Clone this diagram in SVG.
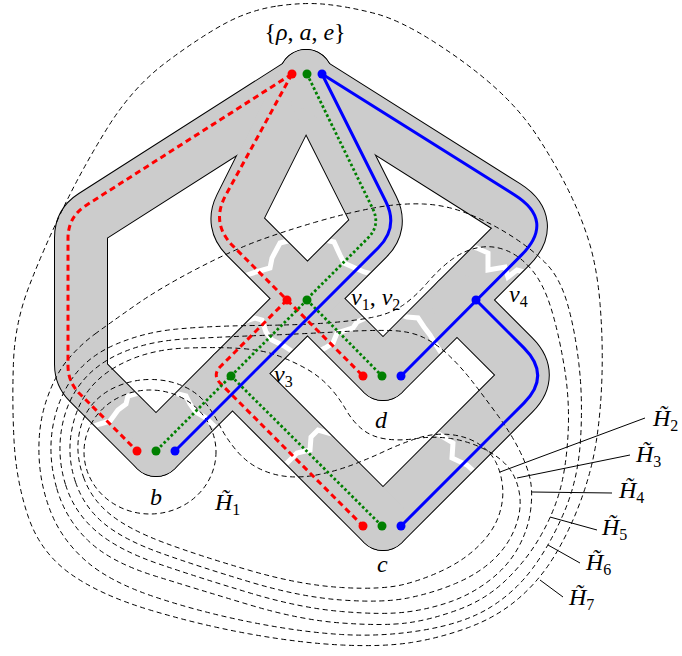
<svg xmlns="http://www.w3.org/2000/svg" width="682" height="656" viewBox="0 0 682 656">
<style>
.hd{fill:none;stroke:#000;stroke-width:1;stroke-dasharray:5 3.5}
.ld{stroke:#000;stroke-width:1;fill:none}
.zz{fill:none;stroke:#fff;stroke-width:5;stroke-linejoin:miter}
.r{fill:none;stroke:#f00;stroke-width:3;stroke-dasharray:6 4}
.g{fill:none;stroke:#008000;stroke-width:2.8;stroke-dasharray:2.6 2.4}
.bl{fill:none;stroke:#00f;stroke-width:3}
.dr{fill:#f00}.dg{fill:#008000}.db{fill:#00f}
text{font-family:"Liberation Serif","DejaVu Serif",serif;font-size:24px;fill:#000}
.it{font-style:italic}
.sub{font-size:16px;font-style:normal}
</style>
<defs>
<g id="bp" fill="none">
<path d="M306,80 L93.1,215.8 Q81,223.5 81,237.8 L81,364.2 Q81,375 88.6,382.6 L156,450"/>
<path d="M306,76 L240.7,206.5 Q232.3,223.3 245.6,236.6 L383,374"/>
<path d="M306,76 L372.5,208.2 Q381,225 367.7,238.3 L156,450"/>
<path d="M306,80 L505.9,206.1 Q533.5,223.5 510.4,246.6 L383,374"/>
<path d="M457,300 L513.6,356.6 Q532,375 513.6,393.4 L383,524"/>
<path d="M232.5,373.5 L383,524"/>
</g>
<mask id="bm" maskUnits="userSpaceOnUse" x="0" y="0" width="682" height="656">
<use href="#bp" stroke="#fff" stroke-width="51" stroke-linecap="round" stroke-linejoin="round"/>
</mask>
</defs>
<rect width="682" height="656" fill="#fff"/>
<g id="band">
<use href="#bp" stroke="#000" stroke-width="54" stroke-linecap="round" stroke-linejoin="round"/>
<use href="#bp" stroke="#ccc" stroke-width="52" stroke-linecap="round" stroke-linejoin="round"/>
</g>
<g id="cuts" mask="url(#bm)">
<polyline class="zz" points="88,428 100,424 110,421 118,410 126,404 128,396 142,392"/>
<polyline class="zz" points="170,392 186,396 190,404 196,412 206,418 213,425 222,432"/>
<polyline class="zz" points="244,276 256,272 270,268 272,258 280,243 292,240 302,238"/>
<polyline class="zz" points="312,240 325,240 334,242 340,255 344,263 355,268 364,272 372,274"/>
<polyline class="zz" points="242,322 255,318 262,320 266,332 272,340 284,346 296,354"/>
<polyline class="zz" points="318,352 325,348 333,343 337,333 353,328 357,322 370,316"/>
<polyline class="zz" points="470,246 477,248 488,253 488,270 505,267 508,277 517,270 524,272"/>
<polyline class="zz" points="396,313 407,317 418,318 424,327 430,335 436,345 442,354"/>
<polyline class="zz" points="280,468 287,463 297,453 310,450 311,437 318,430 332,434"/>
<polyline class="zz" points="432,430 445,438 453,443 452,458 467,465 478,475"/>
</g>
<g id="regions">
<ellipse class="hd" cx="150" cy="452" rx="66" ry="62"/>
<path class="hd" d="M 84,478.5 Q 76,457 78.5,438 Q 81,419 91,406 Q 101,393 118,386 Q 135,379 152.5,379.5 Q 170,380 184,386.5 Q 198,393 206,403.5 Q 214,414 220,426 Q 226,438 236,450 Q 246,462 259,468.5 Q 272,475 287,476.5 Q 302,478 319,474.5 Q 336,471 352,465 Q 368,459 384,451.5 Q 400,444 416.5,438.5 Q 433,433 449.5,434.5 Q 466,436 478,443.5 Q 490,451 495.5,461.5 Q 501,472 502.5,486 Q 504,500 499,515 Q 494,530 480.5,544 Q 467,558 447.5,568 Q 428,578 405.5,584 Q 383,590 341.5,587.5 Q 300,585 250,570.5 Q 200,556 165,543 Q 130,530 111,515 Q 92,500 84,478.5 Z"/>
<path class="hd" d="M 75.5,482 Q 67,457 71.5,431.5 Q 76,406 90,388.5 Q 104,371 129.5,360 Q 155,349 187.5,348 Q 220,347 241,348.5 Q 262,350 276,355 Q 290,360 304,367.5 Q 318,375 328,385.5 Q 338,396 345.5,409 Q 353,422 362.5,429.5 Q 372,437 386,439 Q 400,441 416.5,438.5 Q 433,436 450.5,438.5 Q 468,441 484,449 Q 500,457 508.5,467.5 Q 517,478 519.5,494 Q 522,510 515,528 Q 508,546 493,560 Q 478,574 455.5,583.5 Q 433,593 408,598 Q 383,603 341.5,600 Q 300,597 250,582 Q 200,567 162,553.5 Q 124,540 104,523.5 Q 84,507 75.5,482 Z"/>
<path class="hd" d="M 65.5,484.5 Q 57,457 61.5,429.5 Q 66,402 81.5,382.5 Q 97,363 123.5,352 Q 150,341 185,339 Q 220,337 260,335.5 Q 300,334 335,332 Q 370,330 390,330.5 Q 410,331 423.5,337.5 Q 437,344 449.5,356 Q 462,368 473.5,383 Q 485,398 497.5,415 Q 510,432 518.5,448.5 Q 527,465 530,478.5 Q 533,492 530.5,511 Q 528,530 518,548 Q 508,566 490,580 Q 472,594 451,601.5 Q 430,609 406.5,612 Q 383,615 341.5,611.5 Q 300,608 250,593 Q 200,578 159,564 Q 118,550 96,531 Q 74,512 65.5,484.5 Z"/>
<path class="hd" d="M 56.5,487.5 Q 48,457 52.5,428.5 Q 57,400 72.5,378 Q 88,356 116.5,344 Q 145,332 177.5,329 Q 210,326 255,325.5 Q 300,325 326.5,323 Q 353,321 371.5,317.5 Q 390,314 402.5,305.5 Q 415,297 427.5,282.5 Q 440,268 452.5,259 Q 465,250 479,247.5 Q 493,245 506.5,250.5 Q 520,256 531.5,269.5 Q 543,283 550.5,306.5 Q 558,330 564,365 Q 570,400 568,435 Q 566,470 559,493.5 Q 552,517 538.5,539.5 Q 525,562 505,581 Q 485,600 457.5,610 Q 430,620 406.5,623 Q 383,626 341.5,623 Q 300,620 250,605 Q 200,590 155,576 Q 110,562 87.5,540 Q 65,518 56.5,487.5 Z"/>
<path class="hd" d="M 95,334 Q 110,323 135,305.5 Q 160,288 196.5,269 Q 233,250 259,240.5 Q 285,231 316,222 Q 347,213 373.5,208 Q 400,203 423.5,204 Q 447,205 470,214.5 Q 493,224 513,237 Q 533,250 546.5,264 Q 560,278 567.5,304 Q 575,330 579,365 Q 583,400 580.5,440 Q 578,480 564,512.5 Q 550,545 532.5,568.5 Q 515,592 490,607.5 Q 465,623 424,630 Q 383,637 341.5,634.5 Q 300,632 250,622 Q 200,612 155,597 Q 110,582 86,561 Q 62,540 51,512.5 Q 40,485 39,455 Q 38,425 46.5,400 Q 55,375 67.5,360 Q 80,345 95,334 Z"/>
<path class="hd" d="M 277.5,6 Q 305,2 327.5,4.5 Q 350,7 375,13.5 Q 400,20 435,42.5 Q 470,65 495,87.5 Q 520,110 536.5,135 Q 553,160 566.5,186.5 Q 580,213 588.5,240 Q 597,267 600,303.5 Q 603,340 602,375 Q 601,410 596.5,440 Q 592,470 581,500 Q 570,530 555,555 Q 540,580 518.5,598.5 Q 497,617 468.5,627.5 Q 440,638 411.5,642.5 Q 383,647 341.5,645 Q 300,643 250,634 Q 200,625 150,610 Q 100,595 70,573.5 Q 40,552 28,516 Q 16,480 14,440 Q 12,400 13.5,361.5 Q 15,323 29,286.5 Q 43,250 63,208.5 Q 83,167 108,127 Q 133,87 166.5,62 Q 200,37 225,23.5 Q 250,10 277.5,6 Z"/>
</g>
<g id="leaders">
<line class="ld" x1="500" y1="472" x2="645" y2="418"/>
<line class="ld" x1="517" y1="478" x2="630" y2="455"/>
<line class="ld" x1="532" y1="492" x2="612" y2="493"/>
<line class="ld" x1="550" y1="517" x2="597" y2="530"/>
<line class="ld" x1="548" y1="545" x2="580" y2="563"/>
<line class="ld" x1="540" y1="580" x2="563" y2="597"/>
</g>
<g id="region-labels">
<text x="215" y="510"><tspan class="it">H&#x303;</tspan><tspan class="sub" dy="5">1</tspan></text>
<text x="653" y="426"><tspan class="it">H&#x303;</tspan><tspan class="sub" dy="5">2</tspan></text>
<text x="636" y="462"><tspan class="it">H&#x303;</tspan><tspan class="sub" dy="5">3</tspan></text>
<text x="619" y="498"><tspan class="it">H&#x303;</tspan><tspan class="sub" dy="5">4</tspan></text>
<text x="602" y="535"><tspan class="it">H&#x303;</tspan><tspan class="sub" dy="5">5</tspan></text>
<text x="586" y="570"><tspan class="it">H&#x303;</tspan><tspan class="sub" dy="5">6</tspan></text>
<text x="569" y="605"><tspan class="it">H&#x303;</tspan><tspan class="sub" dy="5">7</tspan></text>
</g>
<g id="connectors">
<path class="r" d="M292,74 L86,205.4 Q68,216.9 68,238.3 L68,365.8 Q68,382 79.5,393.5 L137,451"/>
<path class="r" d="M292,74 L225.8,195.1 Q210.3,223.3 233.1,246.1 L287,300"/>
<path class="r" d="M287,300 L220.5,366.5 Q212,375 220.5,383.5 L363,526"/>
<path class="r" d="M287,300 L363,376"/>
<path class="g" d="M307,74 L372.5,208.2 Q381,225 367.7,238.3 L307,299"/>
<path class="g" d="M307,300 L156,451"/>
<path class="g" d="M307,300 L382,376"/>
<path class="g" d="M231,376 L382,526"/>
<path class="bl" d="M322,74 L385.8,201.5 Q398.7,227.3 378.3,247.7 L175,451"/>
<path class="bl" d="M322,74 L514.3,194.8 Q555.7,220.8 521.1,255.4 L401,376"/>
<path class="bl" d="M476,300 L523.9,347.9 Q551.5,375.5 523.9,403.1 L401,526"/>
</g>
<g id="node-rho-a-e">
<circle class="dr" cx="292" cy="74" r="4.5"/><circle class="dg" cx="307" cy="74" r="4.5"/><circle class="db" cx="322" cy="74" r="4.5"/>
<text x="305" y="40" text-anchor="middle">{<tspan class="it">ρ</tspan>, <tspan class="it">a</tspan>, <tspan class="it">e</tspan>}</text>
</g>
<g id="node-v1-v2">
<circle class="dr" cx="287" cy="300" r="4.5"/><circle class="dg" cx="307" cy="300" r="4.5"/>
<text x="351" y="305"><tspan class="it">v</tspan><tspan class="sub" dy="5">1</tspan><tspan dy="-5">, </tspan><tspan class="it">v</tspan><tspan class="sub" dy="5">2</tspan></text>
</g>
<g id="node-v3">
<circle class="dg" cx="231" cy="376" r="4.5"/>
<text x="274" y="382"><tspan class="it">v</tspan><tspan class="sub" dy="5">3</tspan></text>
</g>
<g id="node-v4">
<circle class="db" cx="476" cy="300" r="4.5"/>
<text x="509" y="302"><tspan class="it">v</tspan><tspan class="sub" dy="5">4</tspan></text>
</g>
<g id="node-b">
<circle class="dr" cx="137" cy="451" r="4.5"/><circle class="dg" cx="156" cy="451" r="4.5"/><circle class="db" cx="175" cy="451" r="4.5"/>
<text class="it" x="150" y="505">b</text>
</g>
<g id="node-d">
<circle class="dr" cx="363" cy="376" r="4.5"/><circle class="dg" cx="382" cy="376" r="4.5"/><circle class="db" cx="401" cy="376" r="4.5"/>
<text class="it" x="375" y="428">d</text>
</g>
<g id="node-c">
<circle class="dr" cx="363" cy="526" r="4.5"/><circle class="dg" cx="382" cy="526" r="4.5"/><circle class="db" cx="401" cy="526" r="4.5"/>
<text class="it" x="377" y="572">c</text>
</g>
</svg>
